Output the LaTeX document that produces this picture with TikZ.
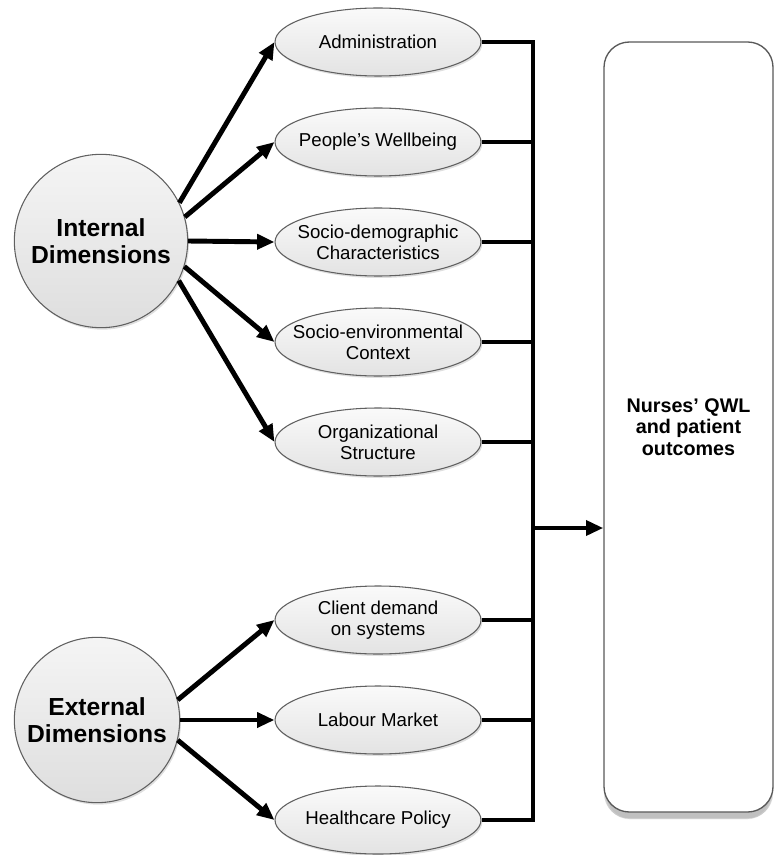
\documentclass[tikz,border=0pt]{standalone}
\usepackage{fontspec}
\setmainfont{Liberation Sans}
\usepackage{tikz}
\usetikzlibrary{positioning, arrows.meta, shapes.geometric, shadows}

\begin{document}
\begin{tikzpicture}
    [
        x=0.75pt, y=-0.75pt, node distance=75pt, on grid,
        dim_node/.style={circle, draw=gray!75!black, line width=0.8pt, top color=gray!8, bottom color=gray!26, inner sep=0pt, minimum size=130pt, align=center, font=\fontsize{18.5}{20}\selectfont\bfseries, drop shadow={opacity=0.25, shadow xshift=1pt, shadow yshift=-1.5pt}},
        factor_node/.style={ellipse, draw=gray!75!black, line width=0.8pt, top color=gray!4, bottom color=gray!22, inner xsep=-12pt, inner ysep=0pt, minimum width=154.5pt, minimum height=51pt, align=center, font=\fontsize{14}{15.5}\selectfont, drop shadow={opacity=0.25, shadow xshift=1pt, shadow yshift=-1.5pt}},
        outcome_node/.style={rectangle, rounded corners=19pt, draw=gray!70!black, line width=1pt, fill=white, minimum width=126.75pt, minimum height=577.5pt, align=center, font=\fontsize{14.8}{16}\selectfont\bfseries, drop shadow={opacity=0.12, shadow xshift=0pt, shadow yshift=-14pt, shadow scale=0.97}, drop shadow={opacity=0.18, shadow xshift=0pt, shadow yshift=-10pt, shadow scale=0.985}, drop shadow={opacity=0.3, shadow xshift=0pt, shadow yshift=-5pt}},
    ]
        \useasboundingbox (0,0) rectangle (775,855);
        \node[dim_node] (int) at (101,241) {Internal\\Dimensions} ;
        \node[dim_node, minimum size=124pt] (ext) at (97,720) {External\\Dimensions} ;
        \node[factor_node] (adm) at (378,42) {Administration} ;
        \node[factor_node] (wel) [below = of adm] {People’s Wellbeing} ;
        \node[factor_node] (soc) [below = of wel] {Socio-demographic\\Characteristics} ;
        \node[factor_node] (env) [below = of soc] {Socio-environmental\\Context} ;
        \node[factor_node] (org) [below = of env] {Organizational\\Structure} ;
        \node[factor_node] (cli) at (378,620) {Client demand\\on systems} ;
        \node[factor_node] (lab) [below = of cli] {Labour Market} ;
        \node[factor_node] (pol) [below = of lab] {Healthcare Policy} ;
        \node[outcome_node] (out) at (688.5,427) {Nurses’ QWL\\and patient\\outcomes} ;
        \coordinate (bus) at (533,528) ;
        \draw[-{Triangle[length=13pt,width=11pt]}, line width=3.7pt, color=black] (int.26) to (adm.west) ;
        \draw[-{Triangle[length=13pt,width=11pt]}, line width=3.7pt, color=black] (int.16) to (wel.west) ;
        \draw[-{Triangle[length=13pt,width=11pt]}, line width=3.7pt, color=black] (int.0) to (soc.west) ;
        \draw[-{Triangle[length=13pt,width=11pt]}, line width=3.7pt, color=black] (int.-17) to (env.west) ;
        \draw[-{Triangle[length=13pt,width=11pt]}, line width=3.7pt, color=black] (int.-27) to (org.west) ;
        \draw[-{Triangle[length=13pt,width=11pt]}, line width=3.7pt, color=black] (ext.14) to (cli.west) ;
        \draw[-{Triangle[length=13pt,width=11pt]}, line width=3.7pt, color=black] (ext.0) to (lab.west) ;
        \draw[-{Triangle[length=13pt,width=11pt]}, line width=3.7pt, color=black] (ext.-14) to (pol.west) ;
        \draw[line width=3.7pt, color=black] (adm.east) -- (adm.east -| bus) -- (pol.east -| bus) -- (pol.east) ;
        \draw[line width=3.7pt, color=black] (wel.east) -- (wel.east -| bus) ;
        \draw[line width=3.7pt, color=black] (soc.east) -- (soc.east -| bus) ;
        \draw[line width=3.7pt, color=black] (env.east) -- (env.east -| bus) ;
        \draw[line width=3.7pt, color=black] (org.east) -- (org.east -| bus) ;
        \draw[line width=3.7pt, color=black] (cli.east) -- (cli.east -| bus) ;
        \draw[line width=3.7pt, color=black] (lab.east) -- (lab.east -| bus) ;
        \draw[-{Triangle[length=13pt,width=11pt]}, line width=3.7pt, color=black] (bus) to (bus -| out.west) ;
    \end{tikzpicture}
\end{document}
